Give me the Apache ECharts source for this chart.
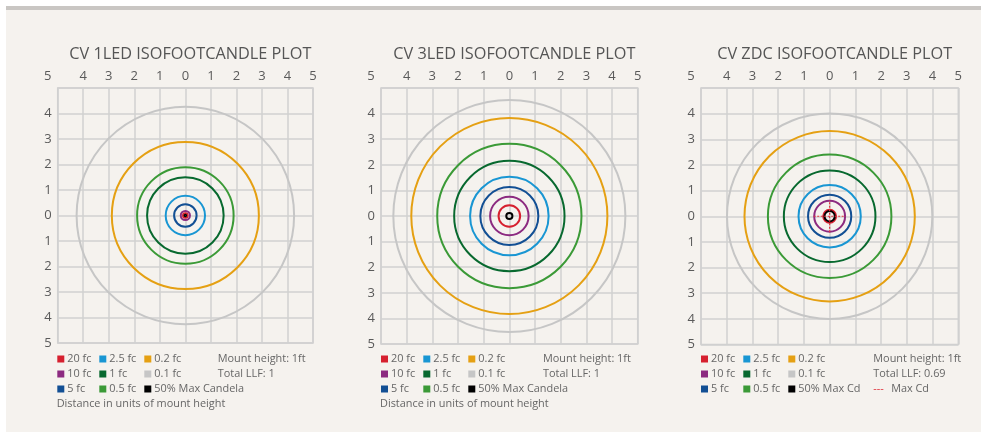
<!DOCTYPE html>
<html><head><meta charset="utf-8">
<script src="https://cdn.jsdelivr.net/npm/echarts@6/dist/echarts.min.js"></script>
<style>html,body{margin:0;padding:0;background:#fff}#c{width:987px;height:437px}</style>
</head><body><div id="c"></div>
<script>
const plotTitles = ['CV 1LED ISOFOOTCANDLE PLOT', 'CV 3LED ISOFOOTCANDLE PLOT', 'CV ZDC ISOFOOTCANDLE PLOT'];
const levelNames = ['20 fc', '10 fc', '5 fc', '2.5 fc', '1 fc', '0.5 fc', '0.2 fc', '0.1 fc'];
const maxNames = ['50% Max Candela', '50% Max Candela', '50% Max Cd'];
const levelColors = ['#d6202f', '#8c2a80', '#124f94', '#1996d3', '#08692f', '#3b9a37', '#e5a013', '#c6c6c6', '#000000'];
// radii (units of mount height): 20, 10, 5, 2.5, 1, 0.5, 0.2, 0.1 fc, 50% max cd
const radii1LED = [0.09, 0.18, 0.44, 0.77, 1.50, 1.89, 2.88, 4.26, 0.03];
const radii3LED = [0.42, 0.75, 1.13, 1.53, 2.15, 2.81, 3.82, 4.52, 0.12];
const radiiZDC = [0.25, 0.60, 0.84, 1.21, 1.78, 2.40, 3.31, 3.99, 0.20];
const maxCdZDC = 0.62;
const tickLabels = ['5', '4', '3', '2', '1', '0', '1', '2', '3', '4', '5'];
const notes1LED = ['Mount height: 1ft', 'Total LLF: 1'];
const notes3LED = ['Mount height: 1ft', 'Total LLF: 1'];
const notesZDC = ['Mount height: 1ft', 'Total LLF: 0.69'];
const maxCdNote = ['---', ' Max Cd'];
const footnote = 'Distance in units of mount height';

const FONT = '"Open Sans", sans-serif';
const TXT = '#5a5a5a';
const GRIDC = '#d0d0d0';
const LEGSIZE = 10.9;
const grids = [
  {left: 57.7, top: 88, width: 255.3, height: 255},
  {left: 381, top: 88, width: 256.7, height: 256},
  {left: 701, top: 88, width: 257.3, height: 256.5}
];
const legendLayout = [
  {c: [-0.4, 41.6, 86.6], n: 160},
  {c: [0, 42.3, 87.3], n: 162},
  {c: [0, 42.3, 87.3], n: 172.3}
];
const allRadii = [radii1LED, radii3LED, radiiZDC];
const allNotes = [notes1LED, notes3LED, notesZDC];

const chart = echarts.init(document.getElementById('c'), null, {renderer: 'canvas'});

const xAxes = [], yAxes = [], series = [], titles = [];
const graphics = [
  {type: 'rect', shape: {x: 6, y: 6, width: 975, height: 426}, style: {fill: '#f5f2ee'}, z: -10},
  {type: 'rect', shape: {x: 6, y: 6, width: 975, height: 4}, style: {fill: '#c9c6c3'}, z: -9}
];
function legText(x, y, t, color) {
  return {type: 'text', x: x, y: y,
    style: {text: t, fill: color || '#666', fontSize: LEGSIZE, fontFamily: FONT, verticalAlign: 'middle'}};
}

grids.forEach((g, i) => {
  xAxes.push({
    gridIndex: i, type: 'value', min: -5, max: 5, interval: 1, position: 'top',
    axisLine: {show: false}, axisTick: {show: false},
    splitLine: {show: true, lineStyle: {color: GRIDC, width: 1.5}},
    axisLabel: {
      margin: 5, color: TXT, fontSize: 13, fontFamily: FONT,
      formatter: v => v === -5 ? '{s|' + tickLabels[0] + '}' : tickLabels[v + 5],
      rich: {s: {padding: [0, 20, 0, 0], color: TXT, fontSize: 13, fontFamily: FONT}}
    }
  });
  yAxes.push({
    gridIndex: i, type: 'value', min: -5, max: 5, interval: 1,
    axisLine: {show: false}, axisTick: {show: false}, showMaxLabel: false,
    splitLine: {show: true, lineStyle: {color: GRIDC, width: 1.5}},
    axisLabel: {margin: 6, color: TXT, fontSize: 13, fontFamily: FONT,
      formatter: v => v === 5 ? '' : tickLabels[5 - v]}
  });
  titles.push({
    text: plotTitles[i], left: g.left + g.width / 2, top: 41, textAlign: 'center',
    textStyle: {color: '#555', fontSize: 16.3, fontWeight: 'normal', fontFamily: FONT}
  });
  const rows = allRadii[i].map((r, k) => [r, k]).sort((a, b) => b[0] - a[0]);
  series.push({
    type: 'custom', xAxisIndex: i, yAxisIndex: i, coordinateSystem: 'cartesian2d',
    data: rows, clip: false, silent: true,
    renderItem: (params, api) => {
      const c = api.coord([0, 0]);
      const r = api.size([api.value(0), 0])[0];
      return {type: 'circle', shape: {cx: c[0], cy: c[1], r: r},
        style: {fill: 'none', stroke: levelColors[api.value(1)], lineWidth: 2}};
    }
  });
  if (i === 2) {
    series.push({
      type: 'custom', xAxisIndex: i, yAxisIndex: i, coordinateSystem: 'cartesian2d',
      data: [[maxCdZDC]], silent: true, z: 3,
      renderItem: (params, api) => {
        const h = api.value(0);
        const a = api.coord([-h, 0]), b = api.coord([h, 0]);
        const c = api.coord([0, -h]), d = api.coord([0, h]);
        const st = {stroke: '#e0323c', lineWidth: 1.2, lineDash: [2, 1.5]};
        return {type: 'group', children: [
          {type: 'line', shape: {x1: a[0], y1: a[1], x2: b[0], y2: b[1]}, style: st},
          {type: 'line', shape: {x1: c[0], y1: c[1], x2: d[0], y2: d[1]}, style: st}
        ]};
      }
    });
  }
  // legend
  const lay = legendLayout[i];
  const names = levelNames.concat([maxNames[i]]);
  const rowY = [359, 374, 389];
  names.forEach((nm, k) => {
    const col = Math.floor(k / 3), row = k % 3;
    const x = g.left + lay.c[col];
    graphics.push({type: 'rect', shape: {x: x, y: rowY[row] - 3.5, width: 7, height: 7},
      style: {fill: levelColors[k]}});
    graphics.push(legText(x + 10, rowY[row], nm));
  });
  allNotes[i].forEach((t, k) => {
    graphics.push(legText(g.left + lay.n, rowY[k], t));
  });
  if (i === 2) {
    graphics.push(legText(g.left + lay.n, rowY[2], maxCdNote[0], '#e0323c'));
    graphics.push(legText(g.left + lay.n + 15, rowY[2], maxCdNote[1]));
  } else {
    graphics.push(legText(g.left - 1, 404, footnote));
  }
});

chart.setOption({
  backgroundColor: '#ffffff',
  animation: false,
  title: titles,
  grid: grids.map(g => Object.assign({show: true, borderColor: GRIDC, borderWidth: 1.5, backgroundColor: 'transparent'}, g)),
  xAxis: xAxes,
  yAxis: yAxes,
  series: series,
  graphic: graphics
});
</script></body></html>
